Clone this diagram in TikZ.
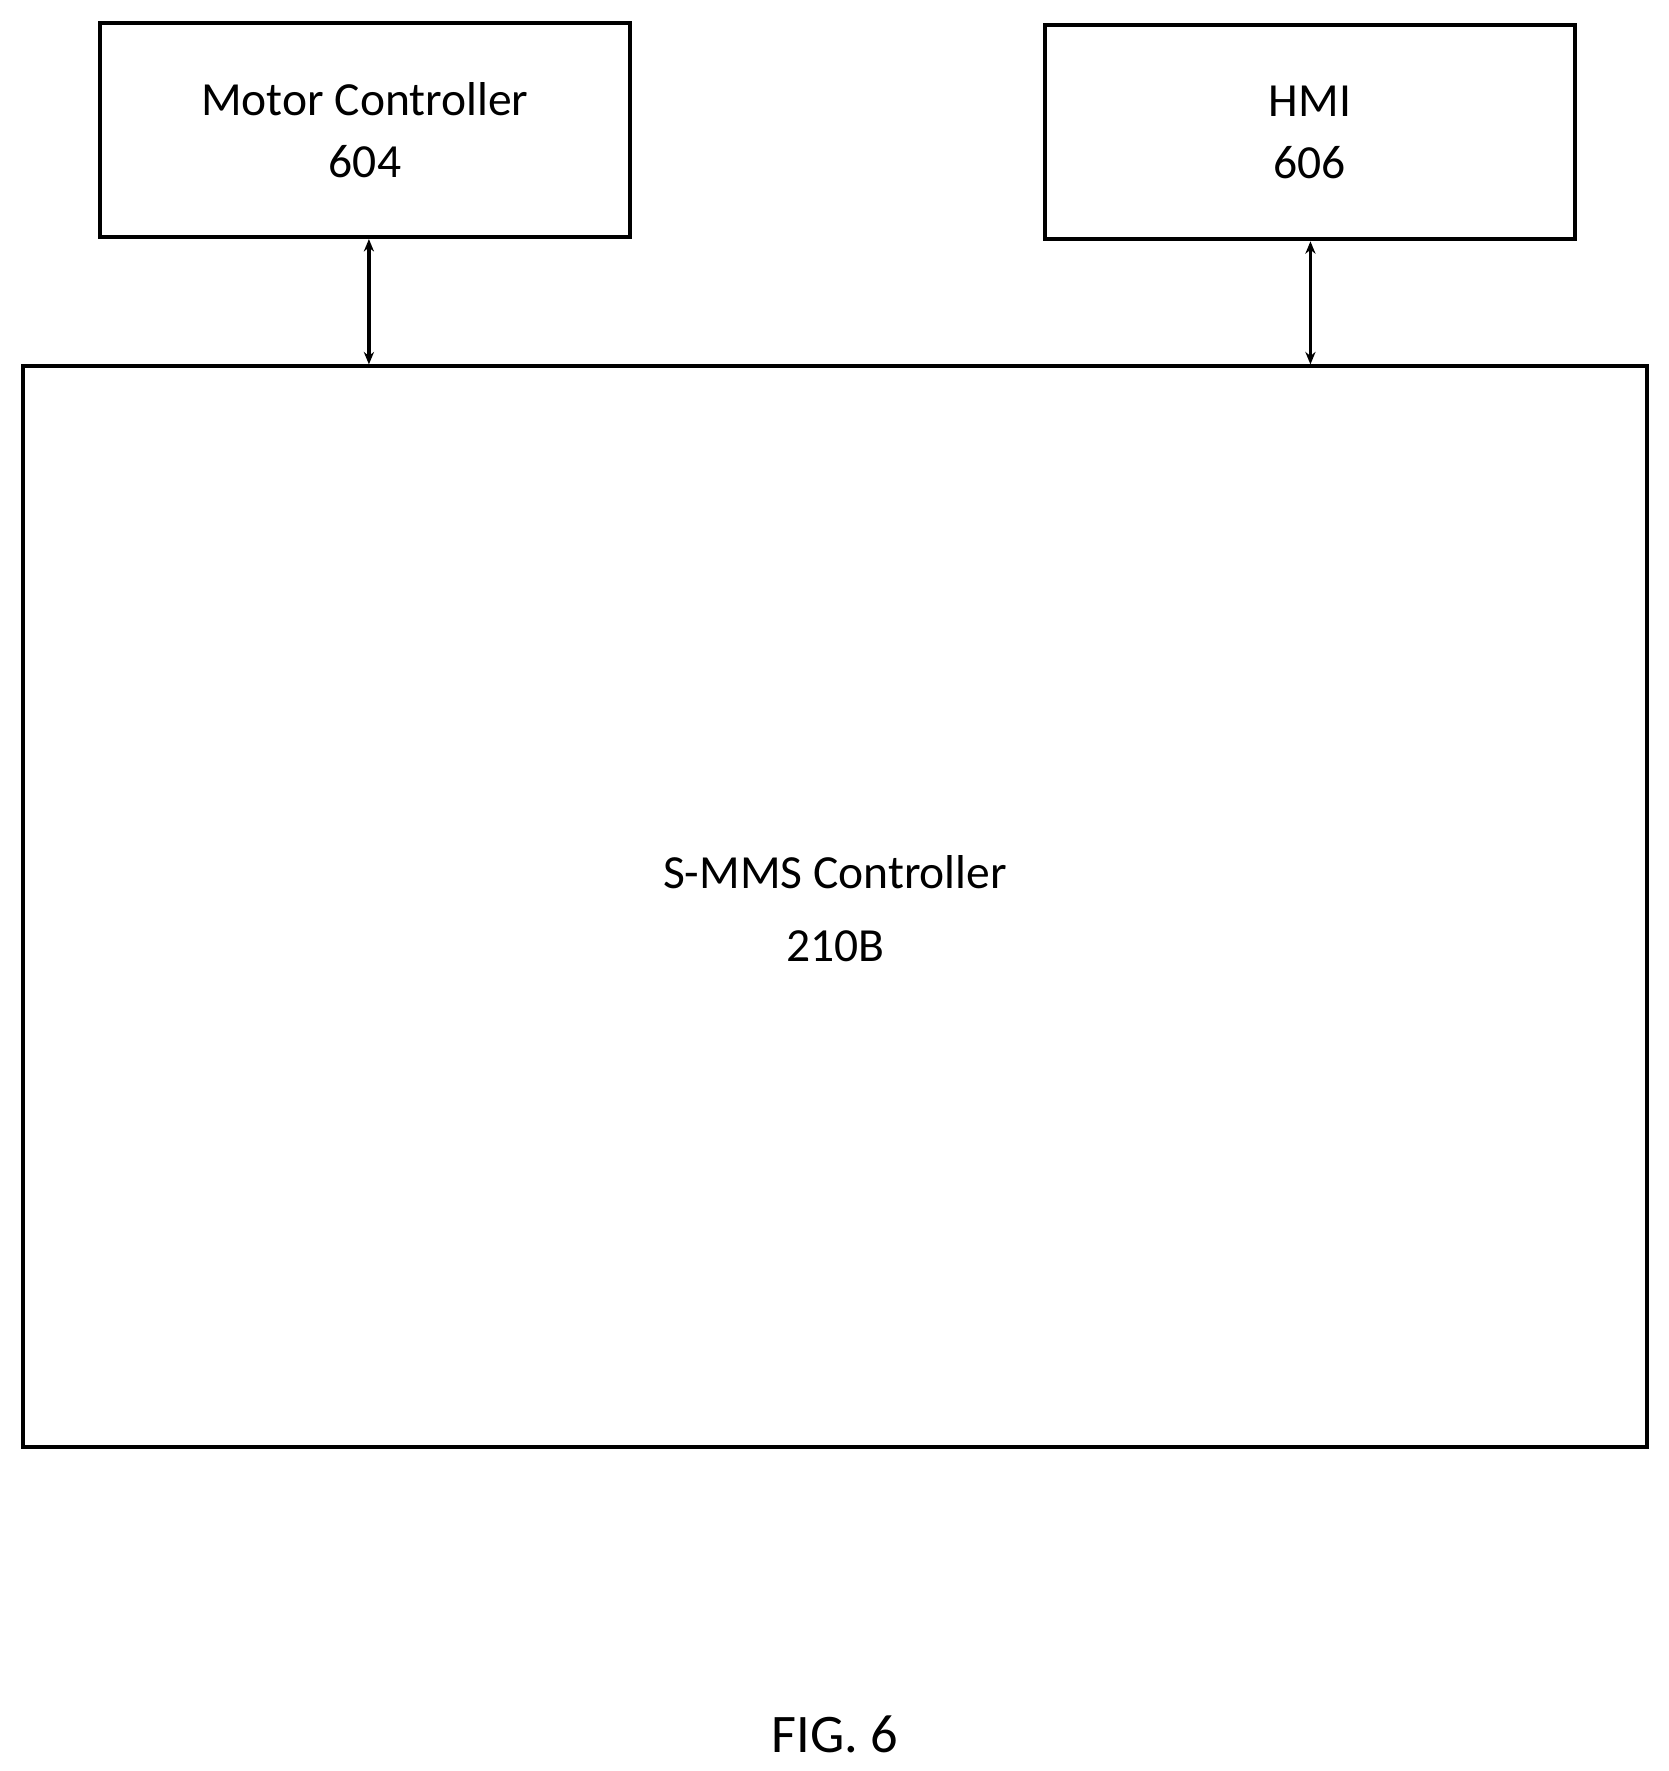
\documentclass[tikz,border=0pt]{standalone}
\usepackage{fontspec}
\setmainfont{Carlito}
\usetikzlibrary{arrows.meta}
\begin{document}
\begin{tikzpicture}[x=1pt,y=-1pt,
  box/.style={draw,line width=3.5pt,inner sep=0pt},
  lbl/.style={font=\fontsize{42}{55}\selectfont,align=center},
  conn/.style={line width=3pt,{Stealth[length=11pt,width=9pt]}-{Stealth[length=11pt,width=9pt]}}]
\useasboundingbox (0,0) rectangle (1474,1565);
\node[box,minimum width=468pt,minimum height=189pt] (mc) at (322.5,115) {};
\node[lbl] at (mc.center) {Motor Controller\\604};
\node[box,minimum width=468pt,minimum height=189pt] (hmi) at (1157.5,117) {};
\node[lbl] at (hmi.center) {HMI\\606};
\node[box,minimum width=1435pt,minimum height=955pt] (smms) at (738,801) {};
\node[lbl,font=\fontsize{42}{65}\selectfont] at (738,803) {S-MMS Controller\\210B};
\coordinate (a1) at (326,322);
\coordinate (a2) at (1158,322);
\draw[conn] (mc.south -| a1) -- (a1);
\draw[conn] (hmi.south -| a2) -- (a2);
\node[font=\fontsize{48}{50}\selectfont] (fig) at (738,1533) {FIG. 6};
\end{tikzpicture}
\end{document}
